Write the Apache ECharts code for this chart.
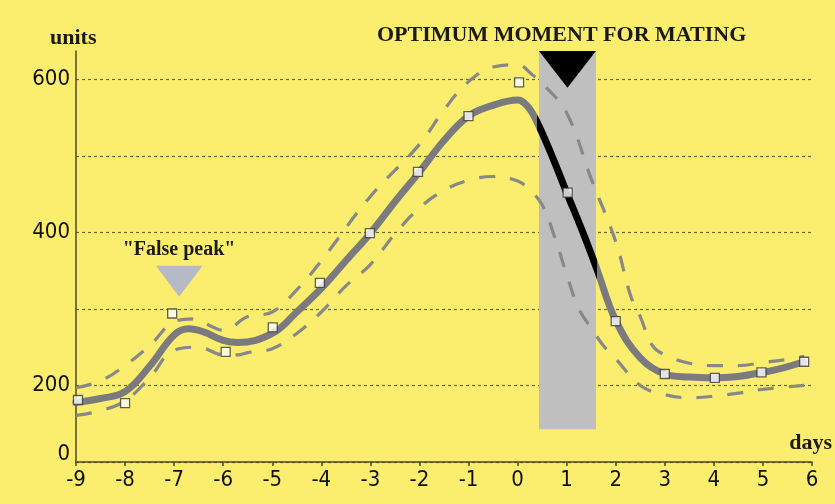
<!DOCTYPE html>
<html><head><meta charset="utf-8">
<script src="https://cdn.jsdelivr.net/npm/echarts@6/dist/echarts.min.js"></script>
<style>html,body{margin:0;padding:0;background:#fbee6f}#c{width:835px;height:504px}</style>
</head><body><div id="c"></div>
<script>
// ---- data ----
const yTickLabels = {100: '0', 200: '200', 400: '400', 600: '600'};
const markerDays   = [-8.96, -8.0, -7.04, -5.95, -4.99, -4.03, -3.01, -2.03, -1.0, 0.03, 1.02, 2.0, 3.0, 4.02, 4.97, 5.84];
const markerValues = [181, 177, 294, 244, 276, 334, 399, 479, 552, 596, 452, 284, 215, 210, 217, 231];

const meanDays   = [-9, -8.5, -8, -7.5, -7, -6.7, -6.4, -6, -5.7, -5, -4.5, -4, -3.5, -3, -2.5, -2, -1.5, -1, -0.5, 0, 0.2, 0.39, 0.7, 1.0, 1.3, 1.61, 2.0, 2.5, 3.0, 3.5, 4.0, 5.0, 5.84];
const meanValues = [178, 183, 192, 225, 266, 274, 270, 259, 256, 268, 296, 327, 363, 399, 440, 479, 520, 552, 566, 573, 565, 545, 500, 452, 405, 353, 285, 236, 215, 211, 210, 217, 231];

const upperDays   = [-9, -8.5, -8, -7.5, -7, -6.6, -6.2, -6, -5.5, -5, -4.5, -4, -3, -2, -1.5, -1, -0.5, 0, 0.3, 0.5, 1.0, 1.5, 2.0, 2.3, 2.5, 2.75, 3.0, 3.5, 4.0, 4.5, 5.0, 5.5, 5.84];
const upperValues = [197, 206, 226, 252, 283, 287, 276, 272, 290, 296, 325, 363, 447, 515, 560, 597, 616, 619, 606, 595, 556, 470, 388, 318, 290, 252, 240, 229, 226, 226, 230, 234, 238];

const lowerDays   = [-9, -8.5, -8, -7.5, -7, -6.5, -6, -5.7, -5.5, -5, -4.5, -4, -3.5, -3, -2.5, -2, -1.5, -1, -0.5, 0, 0.25, 0.5, 0.75, 1.0, 1.25, 1.5, 1.75, 2.0, 2.5, 3.0, 3.5, 4.0, 4.5, 5.0, 5.84];
const lowerValues = [161, 167, 180, 210, 246, 250, 240, 240, 243, 248, 268, 296, 330, 358, 398, 432, 455, 468, 473, 467, 455, 436, 395, 345, 300, 275, 252, 235, 200, 188, 184, 186, 190, 195, 200];

const optimumStart = 0.39, optimumEnd = 1.61;      // black part of the mean curve
const bandDays   = [0.435, 1.597];                  // grey optimum band
const bandValues = [142.7, 637];
const optimumApex = [1.016, 589];                   // black triangle apex
const falsePeakTop  = [-7.37, -6.42, 356.4];        // left day, right day, value
const falsePeakApex = [-6.90, 315.9];

const serif = '"Liberation Serif", "DejaVu Serif", serif';
const narrow = '"Liberation Sans Narrow", "DejaVu Sans Condensed", "Liberation Sans", sans-serif';
const meanGrey = '#7b7b7f';

const zip = (a, b) => a.map((v, i) => [v, b[i]]);

const chart = echarts.init(document.getElementById('c'));
chart.setOption({
  backgroundColor: '#fbee6f',
  animation: false,
  grid: {left: 76, right: 23, top: 51, bottom: 42},
  visualMap: {
    type: 'piecewise', show: false, dimension: 0, seriesIndex: 4,
    pieces: [
      {lt: optimumStart, color: meanGrey},
      {gte: optimumStart, lte: optimumEnd, color: '#000000'},
      {gt: optimumEnd, color: meanGrey}
    ]
  },
  xAxis: {
    type: 'value', min: -9, max: 6, interval: 1,
    axisLine: {onZero: false, lineStyle: {color: '#4d4820', width: 1.5}},
    axisTick: {show: true, length: 4, lineStyle: {color: '#4d4820', width: 1.5}},
    axisLabel: {margin: 7, fontFamily: narrow, fontSize: 22, color: '#111008'},
    splitLine: {show: false}
  },
  yAxis: {
    type: 'value', min: 100, max: 637, interval: 100,
    axisLine: {show: true, onZero: false, lineStyle: {color: '#4d4820', width: 1.5}},
    axisTick: {show: false},
    axisLabel: {
      margin: 6, fontFamily: narrow, fontSize: 22, color: '#111008',
      showMaxLabel: false,
      formatter: v => v === 100 ? '{z|0}' : (yTickLabels[v] || ''),
      rich: {z: {fontFamily: narrow, fontSize: 22, color: '#111008', padding: [0, 0, 16, 0]}}
    },
    splitLine: {show: true, showMaxLine: false, lineStyle: {color: '#6e6830', width: 1.2, type: [3, 3]}}
  },
  graphic: [
    {type: 'text', left: 50, top: 27, style: {text: 'units', font: 'bold 22px ' + serif, fill: '#1c1a10'}},
    {type: 'text', right: 3, top: 432, style: {text: 'days', font: 'bold 22px ' + serif, fill: '#1c1a10'}},
    {type: 'text', left: 377, top: 24, style: {text: 'OPTIMUM MOMENT FOR MATING', font: 'bold 22px ' + serif, fill: '#1c1a10'}}
  ],
  series: [
    {
      type: 'custom', z: 1, silent: true,
      data: [[bandDays[0], bandValues[0], bandDays[1], bandValues[1]]],
      renderItem: (params, api) => {
        const p1 = api.coord([api.value(0), api.value(1)]);
        const p2 = api.coord([api.value(2), api.value(3)]);
        const apex = api.coord(optimumApex);
        return {type: 'group', children: [
          {type: 'rect', shape: {x: p1[0], y: p2[1], width: p2[0] - p1[0], height: p1[1] - p2[1]}, style: {fill: '#bfbfbf'}},
          {type: 'polygon', shape: {points: [[p1[0], p2[1]], [p2[0], p2[1]], apex]}, style: {fill: '#000000'}}
        ]};
      }
    },
    {
      type: 'custom', z: 1, silent: true,
      data: [[falsePeakTop[0], falsePeakTop[1], falsePeakTop[2]]],
      renderItem: (params, api) => {
        const a = api.coord([api.value(0), api.value(2)]);
        const b = api.coord([api.value(1), api.value(2)]);
        const c = api.coord(falsePeakApex);
        return {type: 'group', children: [
          {type: 'polygon', shape: {points: [a, b, c]}, style: {fill: '#b6b9c6'}},
          {type: 'text', x: c[0], y: a[1] - 16, style: {text: '"False peak"', font: 'bold 20px ' + serif, fill: '#1c1a10', align: 'center', verticalAlign: 'middle'}}
        ]};
      }
    },
    {type: 'line', z: 3, data: zip(upperDays, upperValues), smooth: 0.4, symbol: 'none',
     lineStyle: {color: '#888888', width: 3.2, type: [16, 15]}},
    {type: 'line', z: 3, data: zip(lowerDays, lowerValues), smooth: 0.4, symbol: 'none',
     lineStyle: {color: '#888888', width: 3.2, type: [16, 15]}},
    {type: 'line', z: 4, data: zip(meanDays, meanValues), smooth: 0.4, symbol: 'none',
     lineStyle: {width: 7, cap: 'round', join: 'round'}},
    {type: 'scatter', z: 6, data: zip(markerDays, markerValues), symbol: 'rect', symbolSize: 9,
     itemStyle: {color: '#ffffff', borderColor: '#3a3a3a', borderWidth: 1.3}}
  ]
});
</script>
</body></html>
